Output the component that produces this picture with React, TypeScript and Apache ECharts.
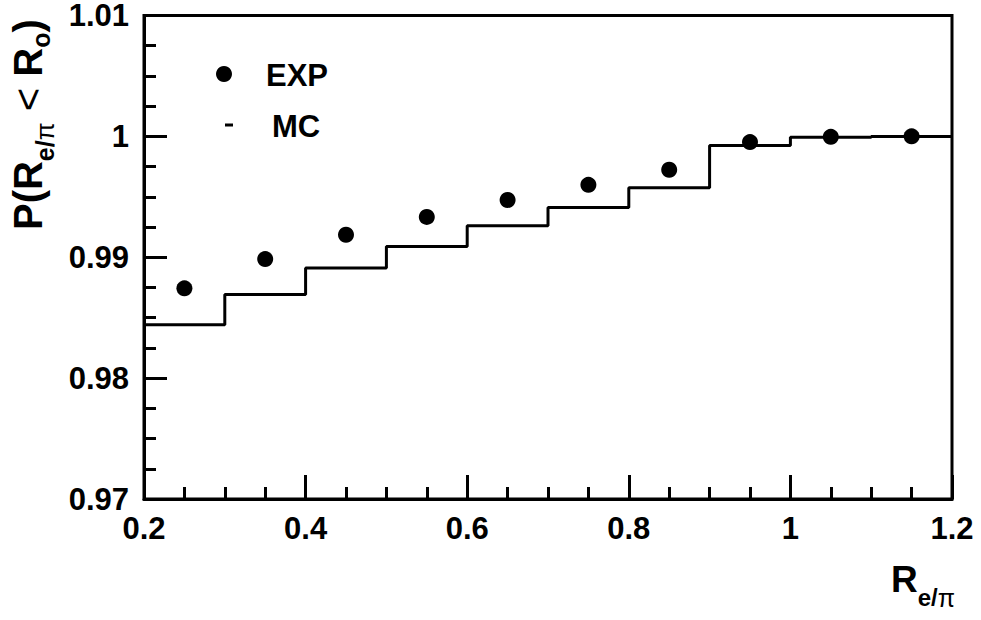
import React, { useEffect, useRef } from "react";
import * as echarts from "echarts";

// ---- data ----
const xTickValues = [0.2, 0.4, 0.6, 0.8, 1.0, 1.2];
const yTickValues = [0.97, 0.98, 0.99, 1.0, 1.01];

// MC histogram (bin edges + bin contents)
const mcBinEdges = [0.2, 0.3, 0.4, 0.5, 0.6, 0.7, 0.8, 0.9, 1.0, 1.1, 1.2];
const mcValues = [0.98441, 0.98691, 0.98911, 0.99089, 0.9926, 0.99412, 0.99576, 0.99925, 0.99992, 1.0];

// EXP points
const expX = [0.25, 0.35, 0.45, 0.55, 0.65, 0.75, 0.85, 0.95, 1.05, 1.15];
const expValues = [0.98743, 0.98985, 0.99186, 0.99334, 0.99474, 0.99599, 0.99724, 0.99953, 0.99996, 1.0];

const legendNames = ["EXP", "MC"];

const FONT = "'Liberation Sans', Arial, Helvetica, sans-serif";

export default function App() {
  const ref = useRef<HTMLDivElement>(null);

  useEffect(() => {
    if (!ref.current) return;
    const chart = echarts.init(ref.current, undefined, { renderer: "svg" });

    const mcData = mcBinEdges.map((e, i) => [e, mcValues[Math.min(i, mcValues.length - 1)]]);
    const expData = expX.map((x, i) => [x, expValues[i]]);

    const fmt = (v: number) => String(parseFloat(v.toFixed(3)));

    const subStyle = (pad: number, size: number, weight: string) => ({
      fontFamily: FONT,
      fontWeight: weight,
      fontSize: size,
      lineHeight: size,
      padding: [pad, 0, 0, 0],
      fill: "#000",
    });

    const option: any = {
      animation: false,
      backgroundColor: "#fff",
      grid: {
        left: 144,
        top: 14,
        width: 808,
        height: 485,
        show: true,
        borderColor: "#000",
        borderWidth: 3,
        backgroundColor: "transparent",
      },
      xAxis: {
        type: "value",
        min: xTickValues[0],
        max: xTickValues[xTickValues.length - 1],
        interval: 0.2,
        splitLine: { show: false },
        axisLine: { show: true, onZero: false, lineStyle: { color: "#000", width: 3 } },
        axisTick: { show: true, inside: true, length: 24, lineStyle: { color: "#000", width: 3 } },
        minorTick: { show: true, splitNumber: 4, length: 12, lineStyle: { color: "#000", width: 3 } },
        axisLabel: {
          color: "#000",
          fontFamily: FONT,
          fontWeight: "bold",
          fontSize: 31,
          margin: 14,
          formatter: fmt,
        },
      },
      yAxis: {
        type: "value",
        min: yTickValues[0],
        max: yTickValues[yTickValues.length - 1],
        interval: 0.01,
        splitLine: { show: false },
        axisLine: { show: true, onZero: false, lineStyle: { color: "#000", width: 3 } },
        axisTick: { show: true, inside: true, length: 23, lineStyle: { color: "#000", width: 3 } },
        minorTick: { show: true, splitNumber: 4, length: 12, lineStyle: { color: "#000", width: 3 } },
        axisLabel: {
          color: "#000",
          fontFamily: FONT,
          fontWeight: "bold",
          fontSize: 31,
          lineHeight: 24,
          margin: 15,
          formatter: fmt,
        },
      },
      series: [
        {
          name: legendNames[1],
          type: "line",
          step: "end",
          data: mcData,
          showSymbol: false,
          symbol: "none",
          lineStyle: { color: "#000", width: 3 },
          z: 2,
        },
        {
          name: legendNames[0],
          type: "scatter",
          data: expData,
          symbol: "circle",
          symbolSize: 16,
          itemStyle: { color: "#000", opacity: 1 },
          z: 3,
        },
      ],
      graphic: [
        // legend
        { type: "circle", shape: { cx: 224, cy: 74, r: 8 }, style: { fill: "#000" } },
        {
          type: "text",
          x: 266,
          y: 75,
          style: {
            text: legendNames[0],
            fill: "#000",
            font: `bold 31px ${FONT}`,
            textAlign: "left",
            textVerticalAlign: "middle",
          },
        },
        { type: "rect", shape: { x: 225, y: 123.5, width: 8, height: 3 }, style: { fill: "#000" } },
        {
          type: "text",
          x: 272,
          y: 126,
          style: {
            text: legendNames[1],
            fill: "#000",
            font: `bold 31px ${FONT}`,
            textAlign: "left",
            textVerticalAlign: "middle",
          },
        },
        // x axis title
        {
          type: "text",
          x: 955,
          y: 579.5,
          style: {
            text: "{m|R}{s|e/}{p|π}",
            textAlign: "right",
            textVerticalAlign: "middle",
            rich: {
              m: { fontFamily: FONT, fontWeight: "bold", fontSize: 37, lineHeight: 37, fill: "#000" },
              s: subStyle(36, 24, "bold"),
              p: subStyle(36, 25, "normal"),
            },
          },
        },
        // y axis title
        {
          type: "text",
          x: 28,
          y: 230,
          rotation: Math.PI / 2,
          style: {
            text: "{m|P(R}{s|e/}{p|π}{n| < }{m|R}{o|o}{m|)}",
            textAlign: "left",
            textVerticalAlign: "middle",
            rich: {
              m: { fontFamily: FONT, fontWeight: "bold", fontSize: 40, lineHeight: 40, fill: "#000" },
              n: { fontFamily: FONT, fontWeight: "normal", fontSize: 40, lineHeight: 40, fill: "#000" },
              s: subStyle(34, 25, "bold"),
              p: subStyle(34, 26, "normal"),
              o: subStyle(26, 25, "bold"),
            },
          },
        },
      ],
    };

    chart.setOption(option);
    return () => chart.dispose();
  }, []);

  return (
    <div
      ref={ref}
      style={{ position: "absolute", left: 0, top: 0, width: 981, height: 620, background: "#fff" }}
    />
  );
}
